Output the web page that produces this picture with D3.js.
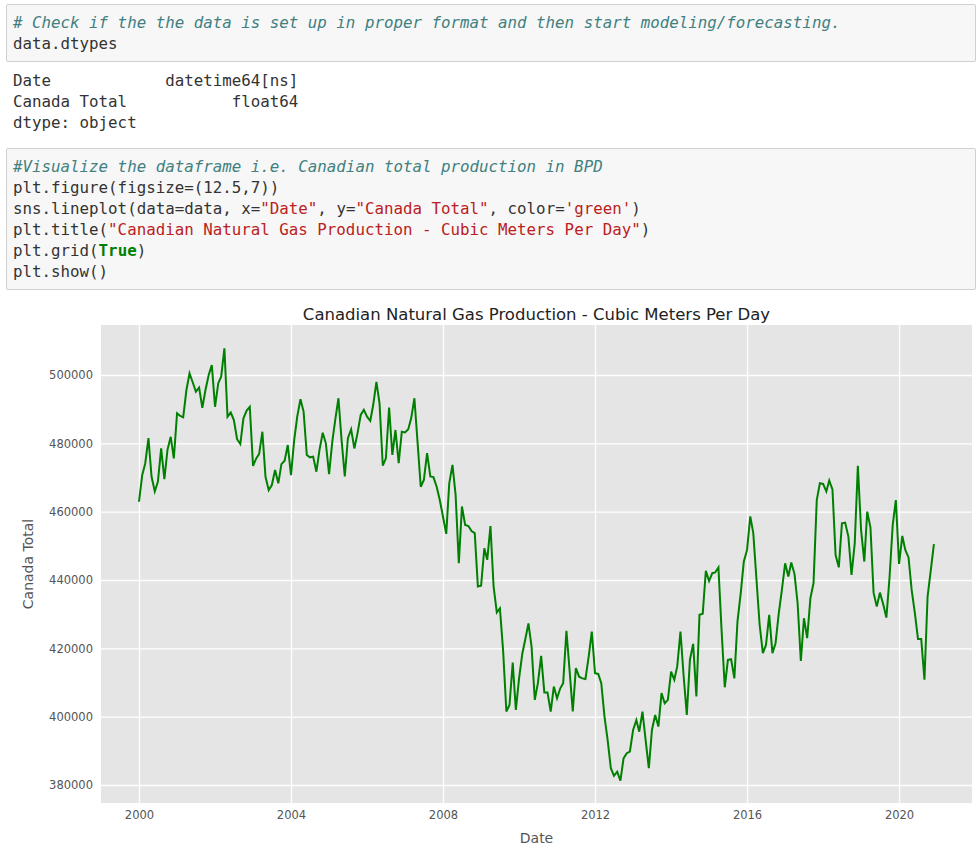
<!DOCTYPE html>
<html>
<head>
<meta charset="utf-8">
<script src="https://cdn.jsdelivr.net/npm/d3@7"></script>
<style>
  body { margin: 0; background: #fff; width: 978px; height: 852px; overflow: hidden; position: relative; }
  .cell { position: absolute; left: 6px; width: 970px; background: #f7f7f7; border: 1px solid #cfcfcf; border-radius: 2px; box-sizing: border-box; }
  pre { margin: 0; font-family: "DejaVu Sans Mono", monospace; font-size: 15.8px; line-height: 21px; color: #333; }
  .c { color: #408080; font-style: italic; }
  .s { color: #ba2121; }
  .k { color: #008000; font-weight: bold; }
  svg { position: absolute; left: 0; top: 292px; }
</style>
</head>
<body>
<div class="cell" style="top:4px;height:58px;padding:7px 6px;"><pre><span class="c"># Check if the the data is set up in proper format and then start modeling/forecasting.</span>
data.dtypes</pre></div>
<pre style="position:absolute;left:13px;top:70px;">Date            datetime64[ns]
Canada Total           float64
dtype: object</pre>
<div class="cell" style="top:148px;height:142px;padding:7px 6px;"><pre><span class="c">#Visualize the dataframe i.e. Canadian total production in BPD</span>
plt.figure(figsize=(12.5,7))
sns.lineplot(data=data, x=<span class="s">"Date"</span>, y=<span class="s">"Canada Total"</span>, color=<span class="s">'green'</span>)
plt.title(<span class="s">"Canadian Natural Gas Production - Cubic Meters Per Day"</span>)
plt.grid(<span class="k">True</span>)
plt.show()</pre></div>
<svg id="chart" width="978" height="560"></svg>
<script>
// monthly values, thousands of m3/day, Jan 2000 .. Dec 2020
const values = [
  462.9, 470.7, 474.1, 481.5, 470.2, 465.9, 468.8, 478.5, 469.5, 478.1, 481.9, 475.6,
  488.8, 488.0, 487.6, 495.6, 500.5, 497.8, 495.1, 496.3, 490.4, 495.6, 500.0, 502.9,
  490.7, 497.6, 499.5, 507.8, 487.8, 489.0, 486.8, 481.2, 479.8, 487.3, 489.6, 490.7,
  473.4, 475.6, 476.9, 483.4, 470.2, 466.3, 467.8, 472.2, 468.3, 473.9, 474.9, 479.5,
  470.7, 481.0, 487.8, 492.9, 489.3, 476.6, 475.9, 476.1, 471.7, 478.1, 483.1, 480.0,
  471.0, 480.5, 486.8, 493.2, 481.0, 470.3, 481.5, 484.1, 478.5, 482.9, 488.3, 489.8,
  487.8, 486.6, 491.2, 498.0, 491.7, 473.5, 475.6, 490.5, 476.6, 483.9, 474.2, 483.4,
  483.2, 484.1, 487.3, 493.2, 480.5, 467.3, 469.3, 477.1, 470.3, 470.1, 467.3, 463.4,
  458.5, 453.5, 468.3, 473.7, 464.9, 444.9, 461.5, 456.1, 455.8, 454.3, 453.7, 438.1,
  438.3, 449.3, 445.9, 455.8, 438.1, 430.5, 431.7, 419.1, 401.5, 403.4, 415.8, 402.0,
  411.2, 418.4, 422.5, 427.3, 420.5, 404.9, 409.8, 417.8, 407.1, 407.1, 401.5, 408.8,
  405.4, 408.3, 409.8, 425.1, 413.7, 401.5, 414.2, 411.7, 411.2, 411.0, 417.6, 424.9,
  412.7, 412.5, 409.8, 400.0, 393.2, 384.9, 382.7, 383.9, 381.3, 387.8, 389.3, 389.8,
  396.1, 399.0, 395.6, 401.5, 393.2, 384.9, 396.1, 400.5, 397.1, 406.9, 403.9, 404.9,
  413.2, 410.8, 414.7, 424.9, 412.2, 400.5, 416.6, 421.3, 405.9, 429.8, 430.1, 442.7,
  439.7, 442.0, 442.2, 443.7, 425.4, 408.6, 416.6, 416.8, 411.2, 427.8, 436.1, 445.4,
  448.8, 458.6, 453.7, 440.0, 426.9, 418.6, 421.0, 429.8, 418.6, 421.5, 430.3, 437.1,
  444.9, 441.0, 445.1, 441.8, 433.2, 416.3, 428.8, 423.0, 434.7, 439.1, 463.4, 468.3,
  468.1, 465.9, 469.1, 466.5, 447.3, 443.7, 456.6, 456.8, 452.7, 441.5, 450.7, 473.4,
  454.6, 445.4, 460.0, 455.4, 436.3, 432.2, 436.3, 433.0, 429.0, 440.5, 456.1, 463.4,
  444.7, 452.9, 448.8, 446.6, 437.1, 430.3, 422.7, 422.7, 410.8, 435.1, 442.9, 450.5
];
const startYear = 2000;
const xTickYears = [2000, 2004, 2008, 2012, 2016, 2020];
const yTicks = [380000, 400000, 420000, 440000, 460000, 480000, 500000];

const data = values.map((v, i) => ({
  date: new Date(startYear + Math.floor(i / 12), i % 12, 1),
  value: v * 1000
}));

const svg = d3.select("#chart");
const pTop = 325 - 292, pBottom = 803 - 292, pLeft = 101, pRight = 972;

const x = d3.scaleTime()
  .domain([new Date(1999, 0, 1), new Date(2021, 11, 2)])
  .range([pLeft, pRight]);
const y = d3.scaleLinear()
  .domain([374730, 514630])
  .range([pBottom, pTop]);

svg.append("rect")
  .attr("x", pLeft).attr("y", pTop)
  .attr("width", pRight - pLeft).attr("height", pBottom - pTop)
  .attr("fill", "#e5e5e5");

const xAxis = d3.axisBottom(x)
  .tickValues(xTickYears.map(yr => new Date(yr, 0, 1)))
  .tickFormat(d3.timeFormat("%Y"))
  .tickSize(-(pBottom - pTop)).tickPadding(8);
const yAxis = d3.axisLeft(y)
  .tickValues(yTicks).tickFormat(d3.format("d"))
  .tickSize(-(pRight - pLeft)).tickPadding(8);

const gx = svg.append("g").attr("transform", `translate(0,${pBottom})`).call(xAxis);
const gy = svg.append("g").attr("transform", `translate(${pLeft},0)`).call(yAxis);
[gx, gy].forEach(g => {
  g.select(".domain").remove();
  g.selectAll(".tick line").attr("stroke", "#fff").attr("stroke-width", 1.3);
  g.selectAll(".tick text").attr("fill", "#555").style("font-family", "DejaVu Sans").style("font-size", "11.5px");
});

svg.append("path")
  .datum(data)
  .attr("fill", "none")
  .attr("stroke", "green")
  .attr("stroke-width", 2)
  .attr("d", d3.line().x(d => x(d.date)).y(d => y(d.value)));

svg.append("text")
  .attr("x", (pLeft + pRight) / 2).attr("y", 314 - 292 + 6)
  .attr("text-anchor", "middle")
  .style("font-family", "DejaVu Sans").style("font-size", "16.5px").attr("fill", "#222")
  .text("Canadian Natural Gas Production - Cubic Meters Per Day");

svg.append("text")
  .attr("x", (pLeft + pRight) / 2).attr("y", 843 - 292)
  .attr("text-anchor", "middle")
  .style("font-family", "DejaVu Sans").style("font-size", "14px").attr("fill", "#555")
  .text("Date");

svg.append("text")
  .attr("transform", `translate(33,${(pTop + pBottom) / 2}) rotate(-90)`)
  .attr("text-anchor", "middle")
  .style("font-family", "DejaVu Sans").style("font-size", "14px").attr("fill", "#555")
  .text("Canada Total");
</script>
</body>
</html>
